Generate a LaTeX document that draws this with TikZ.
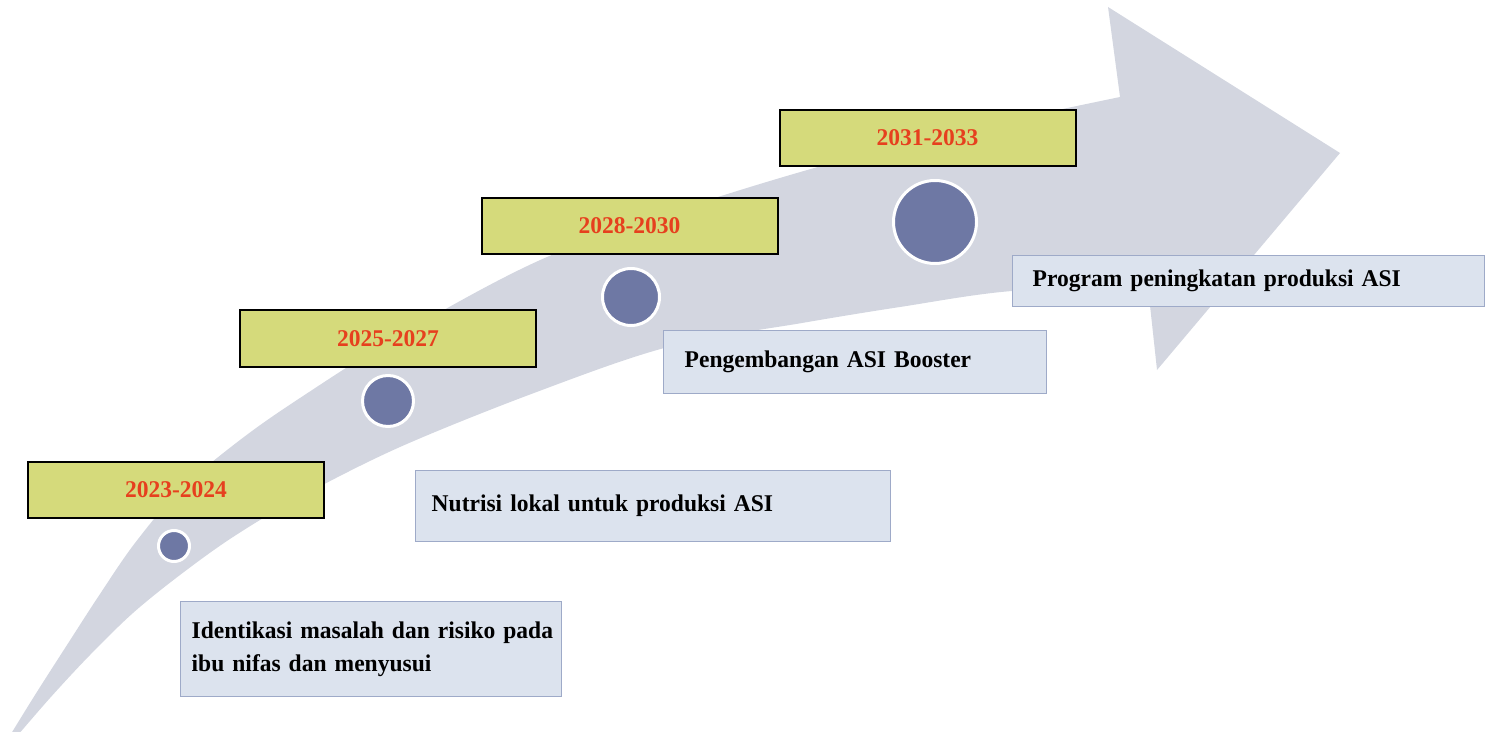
\documentclass[tikz,border=0pt]{standalone}
\usepackage{fontspec}
\setmainfont[FakeStretch=0.98]{Liberation Serif}
\definecolor{arrowfill}{RGB}{211,214,224}
\definecolor{yearfill}{RGB}{213,218,123}
\definecolor{yeartext}{RGB}{230,64,30}
\definecolor{notefill}{RGB}{220,227,238}
\definecolor{noteline}{RGB}{158,170,200}
\definecolor{dotfill}{RGB}{110,120,164}
\begin{document}
\begin{tikzpicture}[x=0.5pt,y=-0.5pt,
  yearbox/.style={draw=black, line width=1pt, fill=yearfill,
    minimum width=148pt, minimum height=28pt, inner sep=0pt,
    font=\fontsize{12}{14}\selectfont\bfseries, text=yeartext},
  stepnote/.style={draw=noteline, line width=0.7pt, fill=notefill,
    anchor=north west, inner ysep=0pt, align=left,
    font=\fontsize{12}{16.5}\selectfont\bfseries},
  dot/.style={circle, fill=dotfill, draw=white, line width=1.5pt, inner sep=0pt}]

\useasboundingbox (0,0) rectangle (1486,732);

% curved timeline arrow
\begin{scope}
\clip (0,0) rectangle (1486,732);
\fill[arrowfill]
  plot[smooth, tension=0.55] coordinates {(6,742) (35,695) (67,645) (100,594)
    (135,543) (180,490) (240,440) (300,398) (400,335) (547,257) (718,197)
    (900,145) (1120,97)}
  -- (1108,7) -- (1340,153) -- (1157,370) -- (1148,287)
  -- plot[smooth, tension=0.55] coordinates {(1148,287) (1012,291) (900,307)
    (802,323) (668,347) (534,393) (400,447) (300,497) (233,537) (180,575)
    (133,613) (90,655) (50,698) (12,742)}
  -- cycle;
\end{scope}

% milestone dots
\node[dot, minimum size=15.5pt] (d1) at (174,546) {};
\node[dot, minimum size=25.5pt] (d2) at (388,401) {};
\node[dot, minimum size=28.5pt] (d3) at (631,297) {};
\node[dot, minimum size=41.5pt] (d4) at (935,222) {};

% period labels
\node[yearbox] (y1) at (176,490) {2023-2024};
\node[yearbox] (y2) at (388,338.5) {2025-2027};
\node[yearbox] (y3) at (629.5,226) {2028-2030};
\node[yearbox] (y4) at (927.5,138) {2031-2033};

% activity notes
\node[stepnote, inner xsep=5.5pt, text width=179.5pt, minimum height=47.5pt]
  (n1) at (180,601) {\mbox{Identikasi masalah dan risiko pada}\\ibu nifas dan menyusui};
\node[stepnote, inner xsep=8pt, text width=221.5pt, minimum height=35.5pt]
  (n2) at (415,470) {Nutrisi lokal untuk produksi ASI};
\node[stepnote, inner xsep=10.5pt, text width=170.5pt, minimum height=31.5pt]
  (n3) at (663,330) {Pengembangan ASI Booster};
\node[stepnote, inner xsep=10pt, text width=216pt, minimum height=25.5pt]
  (n4) at (1012,255) {Program peningkatan produksi ASI};
\end{tikzpicture}
\end{document}
